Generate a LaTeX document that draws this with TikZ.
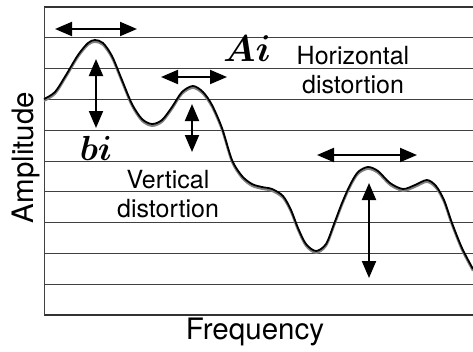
\documentclass[tikz,border=0pt]{standalone}
\usepackage{fontspec}
\setmainfont{TeX Gyre Heros}
\usetikzlibrary{arrows.meta}

\begin{document}
\begin{tikzpicture}[
    x=1pt, y=-1pt,
    grid/.style={draw=black!75,line width=1pt},
    frame/.style={draw=black!80,line width=1.8pt},
    dim/.style={{Triangle[length=17pt,width=14pt]}-{Triangle[length=17pt,width=14pt]},
                line width=2pt},
    axis/.style={font=\fontsize{29.5}{30}\selectfont,inner sep=0pt},
    lab/.style={font=\fontsize{25}{29}\selectfont,align=center,inner sep=0pt},
    sym/.style={font=\fontsize{24.88}{25}\selectfont\boldmath,inner sep=0pt},
]
\useasboundingbox (0,0) rectangle (473,351);

% Grid lines
\foreach \k in {1,...,9}
  \draw[grid] (44,7+30.8*\k) -- (473,7+30.8*\k);
\draw[frame] (44,7) -- (473,7);
\draw[frame] (44,315) -- (473,315);
\draw[grid] (44,7) -- (44,315);

% Spectrum (grey shadow, then black)
\draw[gray,line width=2.2pt,shift={(0,1.8)}] plot[smooth,tension=0.5] coordinates {
  (44,99) (55,92) (66,75) (78,55) (88,43) (95,40) (103,43) (112,56) (122,80)
  (132,104) (142,119) (152,124) (162,120) (172,107) (182,92) (193,86) (203,92)
  (212,105) (222,128) (232,160) (242,176) (252,184) (262,187) (272,189) (283,196)
  (291,210) (298,228) (306,244) (316,251) (326,244) (334,224) (342,203) (350,185)
  (358,172) (368,167) (378,171) (390,183) (403,189) (415,185) (427,180) (436,186)
  (444,200) (452,223) (462,248) (473,269)};
\draw[black,line width=1.8pt] plot[smooth,tension=0.5] coordinates {
  (44,99) (55,92) (66,75) (78,55) (88,43) (95,40) (103,43) (112,56) (122,80)
  (132,104) (142,119) (152,124) (162,120) (172,107) (182,92) (193,86) (203,92)
  (212,105) (222,128) (232,160) (242,176) (252,184) (262,187) (272,189) (283,196)
  (291,210) (298,228) (306,244) (316,251) (326,244) (334,224) (342,203) (350,185)
  (358,172) (368,167) (378,171) (390,183) (403,189) (415,185) (427,180) (436,186)
  (444,200) (452,223) (462,248) (473,269)};

% Distortion arrows
\coordinate (h1a) at (55,29);   \coordinate (h1b) at (137,29);
\coordinate (v1a) at (96,59);   \coordinate (v1b) at (96,128);
\coordinate (h2a) at (161,77);  \coordinate (h2b) at (227,77);
\coordinate (v2a) at (192,104); \coordinate (v2b) at (192,152);
\coordinate (h3a) at (317,155); \coordinate (h3b) at (417,155);
\coordinate (v3a) at (369,183); \coordinate (v3b) at (369,278);
\draw[dim] (h1a) -- (h1b);
\draw[dim] (v1a) -- (v1b);
\draw[dim] (h2a) -- (h2b);
\draw[dim] (v2a) -- (v2b);
\draw[dim] (h3a) -- (h3b);
\draw[dim] (v3a) -- (v3b);

% Labels
\node[sym,anchor=base] (ai) at (247,61) {\scalebox{1.5}{$Ai$}};
\node[sym,anchor=base] (bi) at (96,160) {\scalebox{1.4}{$bi$}};
\node[lab] (hdist) at (353,70) {Horizontal\\distortion};
\node[lab] (vdist) at (168,194) {Vertical\\distortion};

% Axes
\node[axis,anchor=base,rotate=90] (amp) at (33,157.5) {Amplitude};
\node[axis,anchor=base] (freq) at (255,339) {Frequency};

\end{tikzpicture}
\end{document}
